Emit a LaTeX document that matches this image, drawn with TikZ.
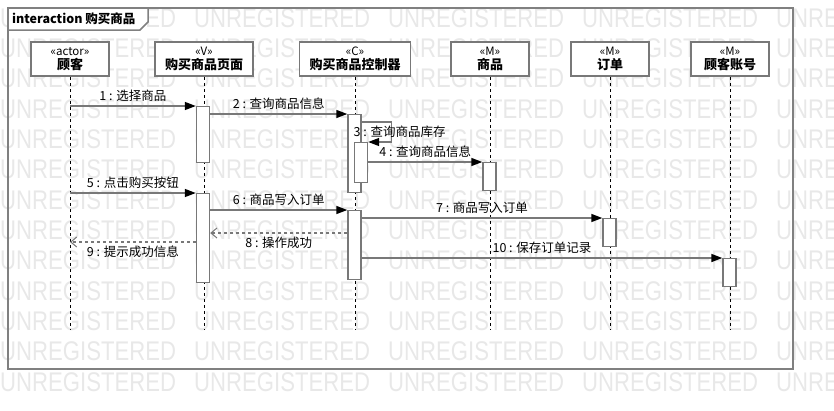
\documentclass[tikz,border=0pt]{standalone}
\usepackage{fontspec}
\setmainfont{Noto Sans CJK SC}
\newfontfamily\wmfont{Liberation Sans}
\usetikzlibrary{arrows.meta}

\begin{document}
\begin{tikzpicture}[x=1pt, y=-1pt,
        head/.style={draw=linegray, line width=1.6pt, fill=white, minimum width=78pt,
            minimum height=34pt, inner xsep=10pt, align=center, font=\fontsize{11.5}{14.5}\selectfont},
        actbar/.style={draw=linegray, line width=1.4pt, fill=white, minimum width=13pt,
            anchor=north, inner sep=0pt},
        lifeline/.style={draw=black, line width=0.7pt, dash pattern=on 3pt off 3pt},
        msg/.style={draw=linegray, line width=1.4pt, -{Triangle[length=11pt,width=8pt,black]}},
        ret/.style={draw=linegray, line width=1.4pt, dash pattern=on 3pt off 3pt,
            -{Straight Barb[length=6pt,width=10pt,line width=1pt]}},
        lbl/.style={font=\fontsize{12.5}{14}\selectfont, text=black},
        wmark/.style={font=\wmfont\fontsize{27}{27}\selectfont, text=wmgray, xscale=0.82,
            inner sep=0pt, anchor=west}
    ]
        % Define colors
        \definecolor{linegray}{RGB}{120,120,120}
        \definecolor{framegray}{RGB}{128,128,128}
        \definecolor{wmgray}{RGB}{232,232,232}

        \useasboundingbox (0,0) rectangle (834,410);

        % Watermark rows
        \foreach \k in {0,...,12} {
                \foreach \j in {0,...,4} {
                        \node[wmark] (wm-\k-\j) at (194*\j, 18+30.33*\k) {UNREGISTERED};
                    }
            }

        % Frame and title tab
        \draw[framegray, line width=2pt] (8,8) rectangle (793,369);
        \draw[framegray, line width=1.5pt, fill=white] (8,8) -- (148,8) -- (148,22) -- (140,30) -- (8,30) -- cycle;
        \node[anchor=west, font=\bfseries\fontsize{12.5}{14}\selectfont, inner sep=0pt] (title) at (12,19) {interaction 购买商品};

        % Lifeline heads
        \node[head] (customer) at (70,59) {«actor»\\{\fontsize{13}{14.5}\selectfont\bfseries 顾客}};
        \node[head] (page) at (204,59) {«V»\\{\fontsize{13}{14.5}\selectfont\bfseries 购买商品页面}};
        \node[head] (ctrl) at (355,59) {«C»\\{\fontsize{13}{14.5}\selectfont\bfseries 购买商品控制器}};
        \node[head] (goods) at (490,59) {«M»\\{\fontsize{13}{14.5}\selectfont\bfseries 商品}};
        \node[head] (order) at (610,59) {«M»\\{\fontsize{13}{14.5}\selectfont\bfseries 订单}};
        \node[head] (account) at (730,59) {«M»\\{\fontsize{13}{14.5}\selectfont\bfseries 顾客账号}};

        % Lifelines
        \coordinate (lifeend) at (0,330);
        \foreach \h in {customer,page,ctrl,goods,order,account} {
                \draw[lifeline] (\h.south) -- (\h.south |- lifeend);
            }

        % Activation bars
        \node[actbar, minimum height=56pt] (barA) at (203,106) {};
        \node[actbar, minimum height=78pt] (barB) at (354.5,114) {};
        \node[actbar, minimum height=40pt] (barC) at (361,142) {};
        \node[actbar, minimum height=28pt] (barD) at (489.5,162) {};
        \node[actbar, minimum height=89pt] (barE) at (203,193) {};
        \node[actbar, minimum height=69pt] (barF) at (354.5,210) {};
        \node[actbar, minimum height=28pt] (barG) at (609.5,218) {};
        \node[actbar, minimum height=28pt] (barH) at (729.5,258) {};

        % Messages
        \draw[msg] (customer |- barA.north west) -- node[lbl, above] {1 : 选择商品} (barA.north west);
        \draw[msg] (barB.north west -| barA.east) -- node[lbl, above] {2 : 查询商品信息} (barB.north west);
        \draw[msg] ([yshift=-8pt]barB.north east) -- ++(30,0) -- ++(0,20)
            node[lbl, midway, xshift=8pt] {3 : 查询商品库存} -- (barC.north east);
        \draw[msg] (barD.north west -| barC.east) -- node[lbl, above] {4 : 查询商品信息} (barD.north west);
        \draw[msg] (customer |- barE.north west) -- node[lbl, above] {5 : 点击购买按钮} (barE.north west);
        \draw[msg] (barF.north west -| barE.east) -- node[lbl, above] {6 : 商品写入订单} (barF.north west);
        \draw[msg] (barG.north west -| barF.east) -- node[lbl, above] {7 : 商品写入订单} (barG.north west);

        % Return messages
        \coordinate (r8) at (0,233);
        \coordinate (r9) at (0,242);
        \draw[ret] (barF.west |- r8) -- node[lbl, below] {8 : 操作成功} (barE.east |- r8);
        \draw[ret] (barE.west |- r9) -- node[lbl, below] {9 : 提示成功信息} (customer |- r9);

        \draw[msg] (barH.north west -| barF.east) -- node[lbl, above] {10 : 保存订单记录} (barH.north west);

    \end{tikzpicture}
\end{document}
